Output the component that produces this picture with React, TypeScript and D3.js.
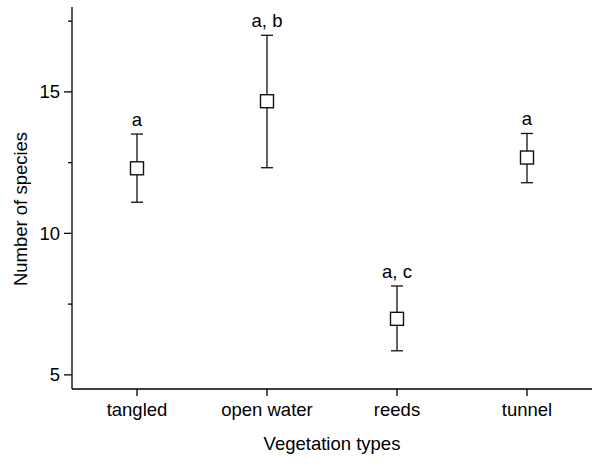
import React from "react";
import * as d3 from "d3";

const categories = ["tangled", "open water", "reeds", "tunnel"];
const means = [12.3, 14.67, 6.98, 12.68];
const upper = [13.51, 17.0, 8.14, 13.53];
const lower = [11.1, 12.32, 5.85, 11.79];
const letters = ["a", "a, b", "a, c", "a"];
const majorTicks = [5, 10, 15];
const minorTicks = [7.5, 12.5, 17.5];

const W = 595;
const H = 464;
const left = 72;
const right = 592;
const top = 7;
const bottom = 389;
const font = "Arial, 'Liberation Sans', Helvetica, sans-serif";
const fs = 18.5;

export default function App() {
  const x = d3.scalePoint<string>().domain(categories).range([left, right]).padding(0.5);
  const y = d3.scaleLinear().domain([4.5, 18]).range([bottom, top]);
  const sq = 13;
  const cap = 6;

  return (
    <svg width={W} height={H} style={{ position: "absolute", left: 0, top: 0 }} fontFamily={font}>
      <rect width={W} height={H} fill="#fff" />
      {/* axes */}
      <line x1={left} x2={left} y1={top} y2={bottom} stroke="#000" strokeWidth={1.3} />
      <line x1={left} x2={right} y1={bottom} y2={bottom} stroke="#000" strokeWidth={1.3} />
      {majorTicks.map((t) => (
        <g key={"M" + t}>
          <line x1={left - 8} x2={left} y1={y(t)} y2={y(t)} stroke="#000" strokeWidth={1.3} />
          <text x={left - 12} y={y(t)} dy="0.35em" textAnchor="end" fontSize={fs}>
            {t}
          </text>
        </g>
      ))}
      {minorTicks.map((t) => (
        <line key={"m" + t} x1={left - 4} x2={left} y1={y(t)} y2={y(t)} stroke="#000" strokeWidth={1.3} />
      ))}
      {categories.map((c) => (
        <g key={"x" + c}>
          <line x1={x(c)} x2={x(c)} y1={bottom} y2={bottom + 7} stroke="#000" strokeWidth={1.3} />
          <text x={x(c)} y={416} textAnchor="middle" fontSize={fs}>
            {c}
          </text>
        </g>
      ))}
      <text x={(left + right) / 2} y={450} textAnchor="middle" fontSize={fs}>
        Vegetation types
      </text>
      <text transform={`translate(27,209) rotate(-90)`} textAnchor="middle" fontSize={fs}>
        Number of species
      </text>
      {/* error bars */}
      {categories.map((c, i) => {
        const cx = x(c) as number;
        return (
          <g key={"e" + c}>
            <line x1={cx} x2={cx} y1={y(upper[i])} y2={y(lower[i])} stroke="#111" strokeWidth={1.3} />
            <line x1={cx - cap} x2={cx + cap} y1={y(upper[i])} y2={y(upper[i])} stroke="#111" strokeWidth={1.3} />
            <line x1={cx - cap} x2={cx + cap} y1={y(lower[i])} y2={y(lower[i])} stroke="#111" strokeWidth={1.3} />
            <rect
              x={cx - sq / 2}
              y={y(means[i]) - sq / 2}
              width={sq}
              height={sq}
              fill="#fff"
              stroke="#111"
              strokeWidth={1.4}
            />
            <text x={cx} y={y(upper[i]) - 8} textAnchor="middle" fontSize={fs}>
              {letters[i]}
            </text>
          </g>
        );
      })}
    </svg>
  );
}
